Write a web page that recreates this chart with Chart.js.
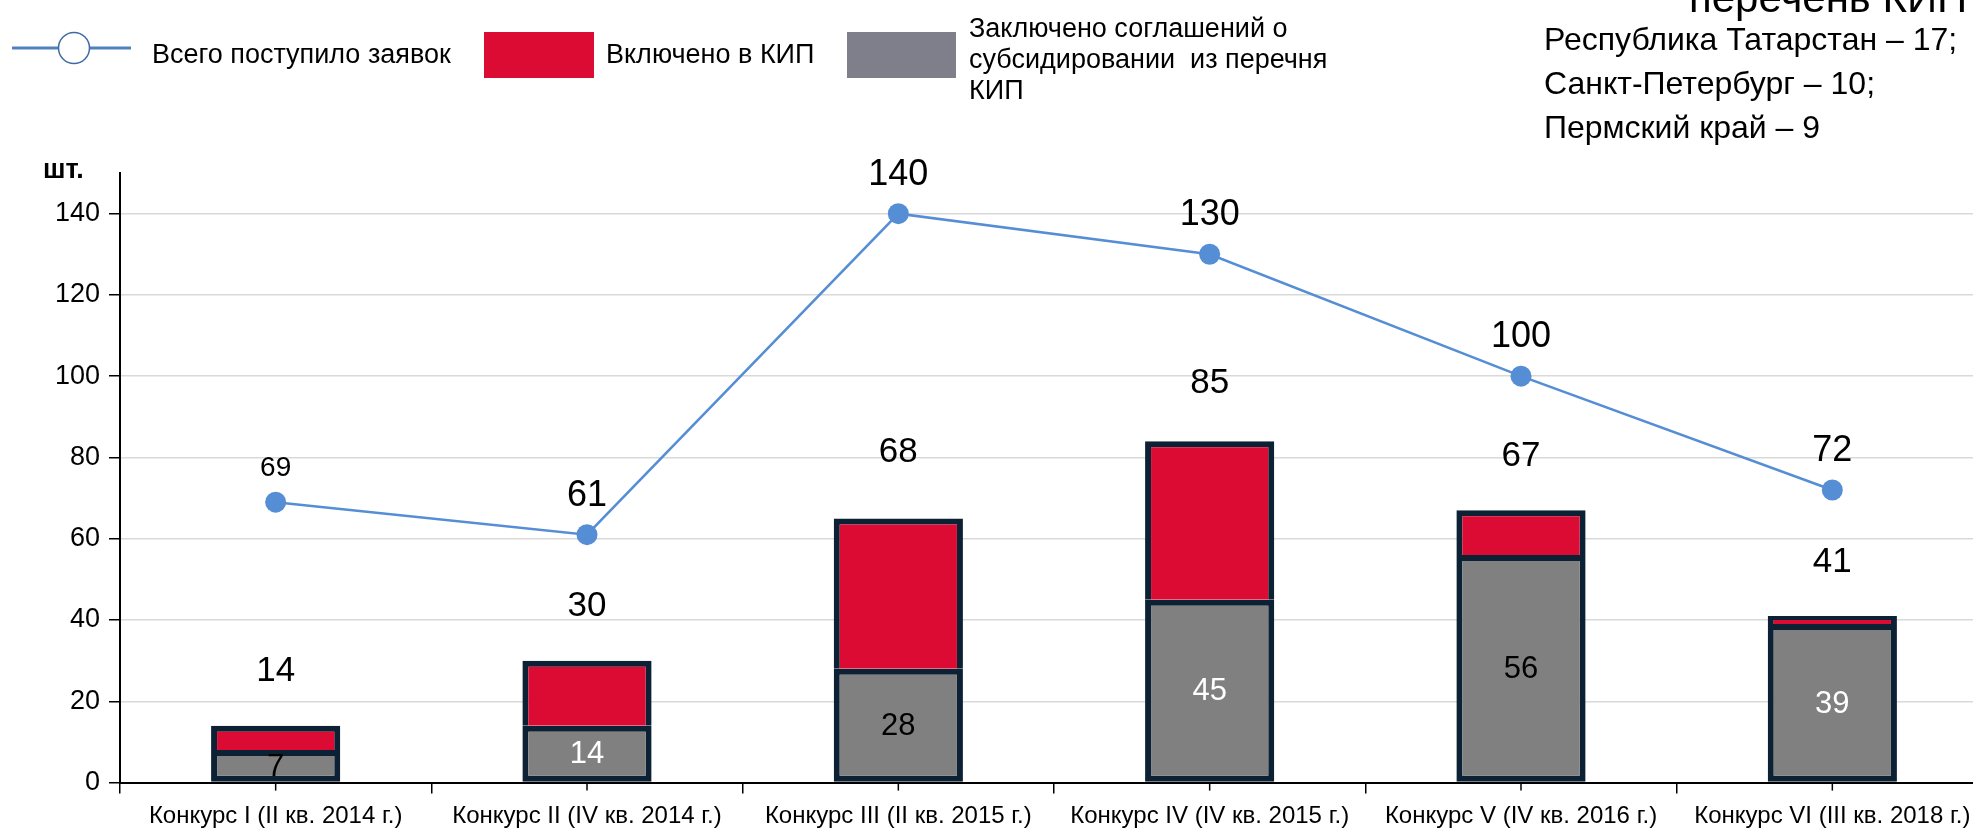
<!DOCTYPE html>
<html><head><meta charset="utf-8">
<script src="https://cdn.jsdelivr.net/npm/chart.js@4.4.1/dist/chart.umd.min.js"></script>
<style>html,body{margin:0;padding:0;overflow:hidden;background:#fff;width:1973px;height:829px}
canvas{display:block}</style></head>
<body><canvas id="c" width="2000" height="829"></canvas>
<script>
const categories = ['Конкурс I (II кв. 2014 г.)','Конкурс II (IV кв. 2014 г.)','Конкурс III (II кв. 2015 г.)','Конкурс IV (IV кв. 2015 г.)','Конкурс V (IV кв. 2016 г.)','Конкурс VI (III кв. 2018 г.)'];
const totalApplications = [69, 61, 140, 130, 100, 72];
const agreementsBar = [8, 14, 28, 45, 56, 39];
const includedExtraBar = [6, 16, 37, 39, 11, 2];
const includedLabels = [14, 30, 68, 85, 67, 41];
const agreementLabels = [7, 14, 28, 45, 56, 39];
const yTicks = [0, 20, 40, 60, 80, 100, 120, 140];
const seriesNames = ['Всего поступило заявок', 'Включено в КИП', 'Заключено соглашений о субсидировании  из перечня КИП'];
const greyLegendLines = ['Заключено соглашений о', 'субсидировании  из перечня', 'КИП'];
const regionLines = ['Республика Татарстан – 17;', 'Санкт-Петербург – 10;', 'Пермский край – 9'];
const headerTail = 'перечень КИП';
const unitLabel = 'шт.';

const FONT = "'Liberation Sans', Arial, Helvetica, sans-serif";
const RED = '#db0b33', GREY = '#808080', BORDER = '#0c2134', BLUE = '#558ed5';

const overlay = {
  id: 'overlay',
  afterDatasetsDraw(chart) {
    const ctx = chart.ctx, xs = chart.scales.x, ys = chart.scales.y;
    ctx.save();
    ctx.strokeStyle = '#000'; ctx.lineWidth = 1.5;
    categories.forEach((c, i) => {
      const x = xs.getPixelForValue(i);
      ctx.beginPath(); ctx.moveTo(x, ys.bottom); ctx.lineTo(x, ys.bottom + 8); ctx.stroke();
    });
    ctx.textAlign = 'center'; ctx.textBaseline = 'middle';
    const gm = chart.getDatasetMeta(1);
    gm.data.forEach((el, i) => {
      ctx.font = '31px ' + FONT;
      ctx.fillStyle = i % 2 === 0 ? '#000' : '#fff';
      ctx.fillText(String(agreementLabels[i]), el.x, (el.y + el.base) / 2 + 1);
    });
    const rm = chart.getDatasetMeta(2);
    rm.data.forEach((el, i) => {
      ctx.font = '35px ' + FONT; ctx.fillStyle = '#000';
      ctx.fillText(String(includedLabels[i]), el.x, ys.getPixelForValue(includedLabels[i]) - 54);
    });
    const lm = chart.getDatasetMeta(0);
    lm.data.forEach((el, i) => {
      const small = i === 0;
      ctx.font = (small ? 28 : 36) + 'px ' + FONT; ctx.fillStyle = '#000';
      ctx.fillText(String(totalApplications[i]), el.x, el.y - (small ? 34 : 39));
    });
    ctx.restore();
  },
  afterDraw(chart) {
    const ctx = chart.ctx;
    ctx.save();
    ctx.textBaseline = 'alphabetic'; ctx.textAlign = 'left'; ctx.fillStyle = '#000';
    ctx.font = 'bold 27px ' + FONT;
    ctx.fillText(unitLabel, 43, 178);
    ctx.strokeStyle = '#4f81bd'; ctx.lineWidth = 3;
    ctx.beginPath(); ctx.moveTo(12, 48); ctx.lineTo(131, 48); ctx.stroke();
    ctx.fillStyle = '#fff'; ctx.strokeStyle = '#3f6aa8'; ctx.lineWidth = 1.5;
    ctx.beginPath(); ctx.arc(74, 48, 15.5, 0, Math.PI * 2); ctx.fill(); ctx.stroke();
    ctx.fillStyle = '#000'; ctx.font = '27px ' + FONT;
    ctx.fillText(seriesNames[0], 152, 63);
    ctx.fillStyle = RED; ctx.fillRect(484, 32, 110, 46);
    ctx.fillStyle = '#000'; ctx.fillText(seriesNames[1], 606, 63);
    ctx.fillStyle = '#7f7f8b'; ctx.fillRect(847, 32, 109, 46);
    ctx.fillStyle = '#000';
    greyLegendLines.forEach((t, i) => ctx.fillText(t, 969, 37 + i * 31));
    ctx.font = '32px ' + FONT;
    regionLines.forEach((t, i) => ctx.fillText(t, 1544, 50 + i * 44));
    ctx.font = '42px ' + FONT;
    ctx.fillText(headerTail, 1689, 12);
    ctx.restore();
  }
};

new Chart(document.getElementById('c'), {
  data: {
    labels: categories,
    datasets: [
      { type: 'line', label: seriesNames[0], data: totalApplications, borderColor: BLUE, backgroundColor: BLUE,
        borderWidth: 2.5, pointRadius: 10.5, pointBorderWidth: 0, pointBackgroundColor: BLUE, order: 0, stack: 'line' },
      { type: 'bar', label: seriesNames[2], data: agreementsBar, backgroundColor: GREY, borderColor: BORDER,
        borderWidth: 6, borderSkipped: false, stack: 'bars', order: 1,
        barPercentage: 0.415, categoryPercentage: 1 },
      { type: 'bar', label: seriesNames[1], data: includedExtraBar, backgroundColor: RED, borderColor: BORDER,
        borderWidth: 6, borderSkipped: 'start', stack: 'bars', order: 1,
        barPercentage: 0.415, categoryPercentage: 1 }
    ]
  },
  options: {
    responsive: false,
    animation: false,
    layout: { padding: { top: 173, right: 12, left: 0, bottom: 0 } },
    plugins: { legend: { display: false }, tooltip: { enabled: false }, title: { display: false } },
    scales: {
      x: {
        stacked: true,
        offset: true,
        grid: { display: true, drawOnChartArea: false, drawTicks: true, tickLength: 11, color: '#000', lineWidth: 1.5, offset: true },
        border: { display: true, color: '#000', width: 2 },
        ticks: { color: '#000', font: { family: FONT, size: 24 }, maxRotation: 0, autoSkip: false, padding: 8 },
        afterFit: s => { s.height = 46.4; }
      },
      y: {
        stacked: true,
        min: 0, max: 150,
        afterBuildTicks: s => { s.ticks = yTicks.map(v => ({ value: v })); },
        grid: { color: '#d9d9d9', lineWidth: 1.5, tickColor: '#000', tickLength: 11, drawTicks: true },
        border: { display: true, color: '#000', width: 2 },
        ticks: { color: '#000', font: { family: FONT, size: 27 }, padding: 9 },
        afterFit: s => { s.width = 120; }
      }
    }
  },
  plugins: [overlay]
});
</script>
</body></html>
